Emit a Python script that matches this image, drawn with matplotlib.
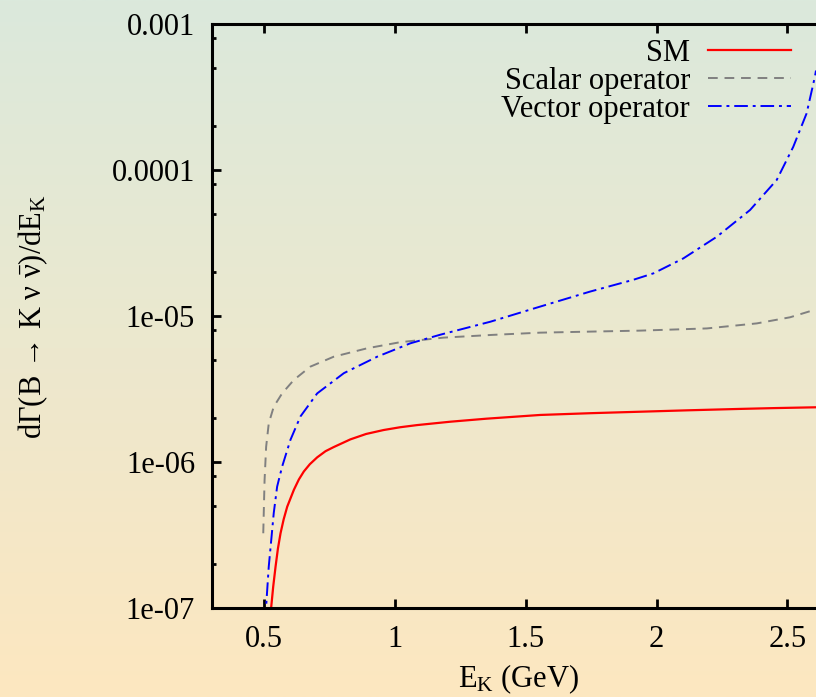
import numpy as np
import matplotlib
matplotlib.use("Agg")
import matplotlib.pyplot as plt
import matplotlib.ticker as ticker
from matplotlib.colors import LinearSegmentedColormap

plt.rcParams['font.family'] = ['Liberation Serif', 'DejaVu Serif']
plt.rcParams['mathtext.fontset'] = 'custom'
plt.rcParams['mathtext.rm'] = 'Liberation Serif'
plt.rcParams['mathtext.it'] = 'Liberation Serif:italic'

# SM curve
e_sm = [0.524, 0.5275, 0.535, 0.544, 0.553, 0.563, 0.575, 0.5885, 0.614, 0.633, 0.652,
        0.675, 0.703, 0.735, 0.766, 0.830, 0.89, 0.957, 1.02, 1.085, 1.212, 1.35, 1.555,
        1.75, 1.937, 2.12, 2.319, 2.45, 2.609]
g_sm = [8e-8, 1.02e-7, 1.4e-7, 1.92e-7, 2.55e-7, 3.25e-7, 4.05e-7, 4.94e-7, 6.45e-7,
        7.59e-7, 8.61e-7, 9.66e-7, 1.076e-6, 1.186e-6, 1.265e-6, 1.429e-6, 1.556e-6,
        1.656e-6, 1.73e-6, 1.79e-6, 1.888e-6, 1.98e-6, 2.10e-6, 2.16e-6, 2.21e-6,
        2.26e-6, 2.31e-6, 2.34e-6, 2.37e-6]

# scalar operator
e_sc = [0.497, 0.4995, 0.502, 0.508, 0.518, 0.537, 0.569, 0.614, 0.677, 0.766, 0.894,
        1.021, 1.186, 1.37, 1.555, 1.75, 1.937, 2.192, 2.383, 2.51, 2.609]
g_sc = [3.25e-7, 4.94e-7, 7.5e-7, 1.27e-6, 1.84e-6, 2.39e-6, 2.95e-6, 3.65e-6, 4.5e-6,
        5.26e-6, 6.01e-6, 6.62e-6, 7.11e-6, 7.42e-6, 7.69e-6, 7.82e-6, 7.94e-6, 8.22e-6,
        8.9e-6, 9.8e-6, 1.11e-5]

# vector operator
e_vec = [0.505, 0.5095, 0.518, 0.5275, 0.537, 0.550, 0.569, 0.601, 0.639, 0.703, 0.805,
         0.932, 1.059, 1.174, 1.365, 1.555, 1.746, 1.911, 1.988, 2.102, 2.23, 2.357,
         2.459, 2.522, 2.573, 2.605, 2.609]
g_vec = [8e-8, 1.13e-7, 1.92e-7, 2.92e-7, 4.46e-7, 6.78e-7, 9.29e-7, 1.42e-6, 2.05e-6,
         2.95e-6, 4.06e-6, 5.26e-6, 6.5e-6, 7.45e-6, 9.14e-6, 1.16e-5, 1.47e-5, 1.77e-5,
         1.96e-5, 2.48e-5, 3.49e-5, 5.32e-5, 8.55e-5, 1.44e-4, 2.44e-4, 4.37e-4,
         4.8e-4]

xticks = [0.5, 1, 1.5, 2, 2.5]
xtick_labels = ["0.5", "1", "1.5", "2", "2.5"]
yticks = [1e-7, 1e-6, 1e-5, 1e-4, 1e-3]
ytick_labels = ["1e-07", "1e-06", "1e-05", "0.0001", "0.001"]

W, H = 816, 697
fig = plt.figure(figsize=(W / 100, H / 100), dpi=100)

# gradient background
bg = fig.add_axes([0, 0, 1, 1], zorder=0)
cmap = LinearSegmentedColormap.from_list("bg", ["#dbe9dc", "#fde7c0"])
bg.imshow(np.linspace(0, 1, 256).reshape(-1, 1), aspect="auto", cmap=cmap,
          extent=[0, 1, 0, 1], origin="upper")
bg.set_axis_off()

left, right, top, bottom = 211.7, 816, 24, 608
ax = fig.add_axes([left / W, 1 - bottom / H, (right - left) / W, (bottom - top) / H],
                  zorder=1)
ax.patch.set_alpha(0)

ax.plot(e_sm, g_sm, color="#ff0000", lw=1.6, label="SM")
ax.plot(e_sc, g_sc, color="#808080", lw=1.4, dashes=(5, 3.5), label="Scalar operator")
ax.plot(e_vec, g_vec, color="#0000ff", lw=1.4, dashes=(7, 2.5, 1.5, 2.5),
        label="Vector operator")

ax.set_yscale("log")
ax.set_xlim(0.3, 2.609)
ax.set_ylim(1e-7, 1e-3)

ax.set_xticks(xticks)
ax.set_xticklabels(xtick_labels)
ax.set_yticks(yticks)
ax.set_yticklabels(ytick_labels)
ax.yaxis.set_minor_locator(ticker.LogLocator(base=10, subs=(2, 5, 8)))
ax.yaxis.set_minor_formatter(ticker.NullFormatter())
ax.xaxis.set_minor_locator(ticker.NullLocator())

ax.tick_params(which="major", direction="in", length=6.5, width=2, labelsize=22,
               top=True, right=False, pad=12)
ax.tick_params(which="minor", direction="in", length=3, width=2, right=False)
for sp in ["left", "bottom", "top"]:
    ax.spines[sp].set_linewidth(2.2)
ax.spines["right"].set_visible(False)

fig.text(519 / W, 1 - 687 / H, r"E$_{\rm K}$ (GeV)", ha="center", va="baseline",
         fontsize=22)
fig.text(33 / W, 1 - 317 / H,
         r"d$\Gamma$(B$\,\rightarrow\,$K $\mathrm{\nu}$ $\bar{\mathrm{\nu}}$)/dE$_{\rm K}$",
         rotation=90, ha="center", va="center", fontsize=22)

ax.legend(loc="upper right", frameon=False, markerfirst=False, fontsize=22,
          handlelength=2.7, handletextpad=0.6, labelspacing=-0.04,
          borderaxespad=0.0, bbox_to_anchor=((803 - left) / (right - left), 1.0 - 0.005))

fig.savefig("out.png", dpi=100)
